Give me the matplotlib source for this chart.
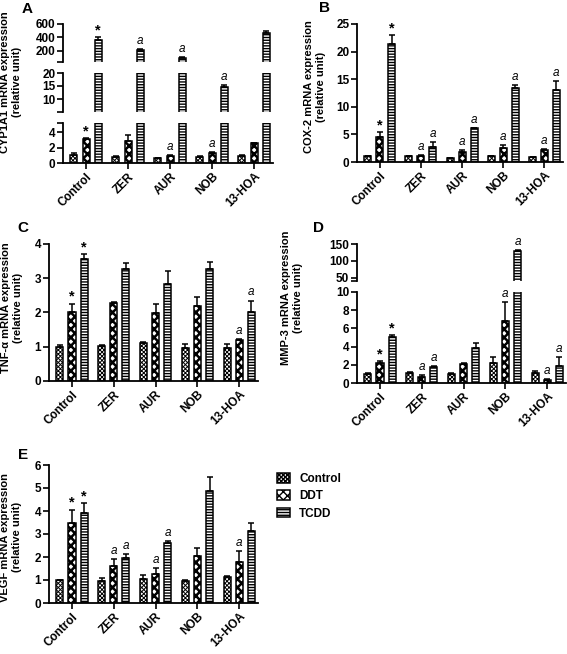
import numpy as np
import matplotlib
matplotlib.use("Agg")
import matplotlib.pyplot as plt
from matplotlib.patches import Patch

plt.rcParams['font.family'] = ['Liberation Sans', 'DejaVu Sans']
plt.rcParams['font.weight'] = 'bold'
plt.rcParams['axes.linewidth'] = 1.3

groups = ["Control", "ZER", "AUR", "NOB", "13-HOA"]
series = ["Control", "DDT", "TCDD"]

# CYP1A1
cyp_mean = [[1.1, 0.8, 0.6, 0.8, 0.9],
            [3.1, 2.8, 0.9, 1.3, 2.6],
            [360, 220, 100, 14.5, 460]]
cyp_err = [[0.15, 0.05, 0.05, 0.05, 0.1],
           [0.1, 0.9, 0.1, 0.1, 0.05],
           [40, 15, 10, 0.8, 40]]
cyp_mark = [["", "", "", "", ""],
            ["*", "", "a", "a", ""],
            ["*", "a", "a", "a", ""]]

# COX-2
cox_mean = [[1.0, 1.0, 0.7, 1.0, 0.9],
            [4.6, 1.1, 1.9, 2.6, 2.1],
            [21.4, 2.8, 6.1, 13.4, 13.1]]
cox_err = [[0.1, 0.1, 0.05, 0.05, 0.05],
           [0.8, 0.2, 0.2, 0.4, 0.2],
           [1.6, 0.8, 0.05, 0.6, 1.5]]
cox_mark = [["", "", "", "", ""],
            ["*", "a", "a", "a", "a"],
            ["*", "a", "a", "a", "a"]]

# TNF-alpha
tnf_mean = [[1.0, 1.02, 1.1, 0.95, 0.97],
            [2.0, 2.28, 1.98, 2.2, 1.2],
            [3.55, 3.27, 2.82, 3.28, 2.0]]
tnf_err = [[0.05, 0.03, 0.03, 0.14, 0.1],
           [0.25, 0.03, 0.26, 0.25, 0.02],
           [0.15, 0.18, 0.4, 0.2, 0.35]]
tnf_mark = [["", "", "", "", ""],
            ["*", "", "", "", "a"],
            ["*", "", "", "", "a"]]

# MMP-3
mmp_mean = [[1.0, 1.1, 1.0, 2.2, 1.1],
            [2.2, 0.65, 2.05, 6.8, 0.3],
            [5.0, 1.8, 3.8, 130, 1.9]]
mmp_err = [[0.05, 0.1, 0.05, 0.7, 0.25],
           [0.2, 0.25, 0.1, 2.1, 0.1],
           [0.25, 0.1, 0.6, 3, 0.95]]
mmp_mark = [["", "", "", "", ""],
            ["*", "a", "", "a", "a"],
            ["*", "a", "", "a", "a"]]

# VEGF
vegf_mean = [[1.0, 0.97, 1.05, 0.97, 1.15],
             [3.48, 1.6, 1.25, 2.05, 1.8],
             [3.92, 1.97, 2.63, 4.88, 3.15]]
vegf_err = [[0.02, 0.1, 0.15, 0.05, 0.03],
            [0.58, 0.3, 0.27, 0.33, 0.45],
            [0.42, 0.17, 0.08, 0.6, 0.33]]
vegf_mark = [["", "", "", "", ""],
             ["*", "a", "a", "", "a"],
             ["*", "a", "a", "", ""]]

hatches = ['xxxxxxxx', 'xxxx', '------']
hatch_lw = [0.7, 1.8, 1.0]
offsets = [-0.29, 0.0, 0.29]
bw = 0.17

W, H = 567, 654
fig = plt.figure(figsize=(W / 100, H / 100), dpi=100)


def add_ax(x0, x1, y0, y1):
    return fig.add_axes([x0 / W, 1 - y1 / H, (x1 - x0) / W, (y1 - y0) / H])


def draw_bars(ax, means, errs, lo):
    x = np.arange(len(groups))
    for i in range(3):
        bars = ax.bar(x + offsets[i], means[i], bw, color='white',
                      edgecolor='black', linewidth=1.1, hatch=hatches[i])
        for b in bars:
            if hasattr(b, 'set_hatch_linewidth'):
                b.set_hatch_linewidth(hatch_lw[i])
        # only the error bars that reach into this segment
        keep = [j for j in range(len(groups))
                if means[i][j] + errs[i][j] > lo]
        if not keep:
            continue
        ax.errorbar(x[keep] + offsets[i], np.array(means[i])[keep],
                    yerr=[np.zeros(len(keep)), np.array(errs[i])[keep]],
                    fmt='none', ecolor='black', elinewidth=1.1,
                    capsize=2.5, capthick=1.1)


def draw_marks(ax, means, errs, marks, lo, hi):
    x = np.arange(len(groups))
    for i in range(3):
        for j in range(len(groups)):
            m = marks[i][j]
            top = means[i][j] + errs[i][j]
            if not m or top < lo or top > hi:
                continue
            if m == "*":
                ax.annotate(m, (x[j] + offsets[i], top), xytext=(0, 0),
                            textcoords='offset points', ha='center',
                            va='bottom', fontsize=10.5, fontweight='bold')
            else:
                ax.annotate(m, (x[j] + offsets[i], top), xytext=(0, 1.5),
                            textcoords='offset points', ha='center',
                            va='bottom', fontsize=8.5, fontweight='normal',
                            fontstyle='italic')


def style(ax, ylim, yticks, bottom=True, seg_ticks=None):
    ax.set_xlim(-0.55, 4.45)
    ax.set_ylim(*ylim)
    ax.set_yticks(yticks)
    ax.set_yticklabels([str(t) for t in yticks])
    if seg_ticks is not None:
        ax.set_yticks(seg_ticks, minor=True)
        ax.tick_params(axis='y', which='minor', length=4, width=1.2)
    ax.spines['top'].set_visible(False)
    ax.spines['right'].set_visible(False)
    ax.tick_params(axis='both', which='major', length=4, width=1.2,
                   labelsize=8.5, pad=1.5)
    ax.set_xticks(np.arange(len(groups)))
    if bottom:
        ax.set_xticklabels(groups, rotation=45, ha='right',
                           rotation_mode='anchor', fontsize=8.5,
                           fontweight='bold')
    else:
        ax.spines['bottom'].set_visible(False)
        ax.tick_params(axis='x', bottom=False, labelbottom=False)
    for lab in ax.get_yticklabels():
        lab.set_fontweight('bold')


def ylab(x, y, text):
    fig.text(x / W, 1 - y / H, text, rotation=90, ha='center', va='center',
             multialignment='center', fontsize=8.0, fontweight='bold')


def letter(x, y, text):
    fig.text(x / W, 1 - y / H, text, ha='center', va='center',
             fontsize=11, fontweight='bold')


# Panel A (broken axis, three segments)
segsA = [((0, 5.2), [0, 2, 4], (123, 163), True, [5.2]),
         ((5, 20), [10, 15, 20], (73, 112), False, [5]),
         ((37, 600), [200, 400, 600], (24, 62), False, [37])]
for lim, ticks, (y0, y1), bot, st in segsA:
    ax = add_ax(63, 273, y0, y1)
    draw_bars(ax, cyp_mean, cyp_err, lim[0])
    draw_marks(ax, cyp_mean, cyp_err, cyp_mark, lim[0], lim[1])
    style(ax, lim, ticks, bottom=bot, seg_ticks=st)
ylab(11, 82, "CYP1A1 mRNA expression\n(relative unit)")
letter(27, 9, "A")

# Panel B
ax = add_ax(357, 563, 24, 162)
draw_bars(ax, cox_mean, cox_err, 0)
draw_marks(ax, cox_mean, cox_err, cox_mark, 0, 25)
style(ax, (0, 25), [0, 5, 10, 15, 20, 25])
ylab(315, 87, "COX-2 mRNA expression\n(relative unit)")
letter(325, 8, "B")

# Panel C
ax = add_ax(49, 258, 244, 381)
draw_bars(ax, tnf_mean, tnf_err, 0)
draw_marks(ax, tnf_mean, tnf_err, tnf_mark, 0, 4)
style(ax, (0, 4), [0, 1, 2, 3, 4])
ylab(12, 308, "TNF-\u03b1 mRNA expression\n(relative unit)")
letter(23, 228, "C")

# Panel D (broken axis, two segments)
segsD = [((0, 10), [0, 2, 4, 6, 8, 10], (292, 383), True, None),
         ((40, 150), [50, 100, 150], (244, 281), False, [40])]
for lim, ticks, (y0, y1), bot, st in segsD:
    ax = add_ax(357, 566, y0, y1)
    draw_bars(ax, mmp_mean, mmp_err, lim[0])
    draw_marks(ax, mmp_mean, mmp_err, mmp_mark, lim[0], lim[1])
    style(ax, lim, ticks, bottom=bot, seg_ticks=st)
ylab(292, 298, "MMP-3 mRNA expression\n(relative unit)")
letter(318, 228, "D")

# Panel E
ax = add_ax(49, 258, 465, 603)
draw_bars(ax, vegf_mean, vegf_err, 0)
draw_marks(ax, vegf_mean, vegf_err, vegf_mark, 0, 6)
style(ax, (0, 6), [0, 1, 2, 3, 4, 5, 6])
ylab(11, 537, "VEGF mRNA expression\n(relative unit)")
letter(23, 455, "E")

# Legend
handles = []
for i in range(3):
    p = Patch(facecolor='white', edgecolor='black', linewidth=1.1,
              hatch=hatches[i], label=series[i])
    if hasattr(p, 'set_hatch_linewidth'):
        p.set_hatch_linewidth(hatch_lw[i])
    handles.append(p)
fig.legend(handles=handles, loc='upper left',
           bbox_to_anchor=(271 / W, 1 - 467 / H), frameon=False,
           fontsize=8.5, handlelength=1.1, handleheight=0.9,
           handletextpad=0.8, labelspacing=0.45, borderpad=0)

fig.savefig("out.png", dpi=100)
